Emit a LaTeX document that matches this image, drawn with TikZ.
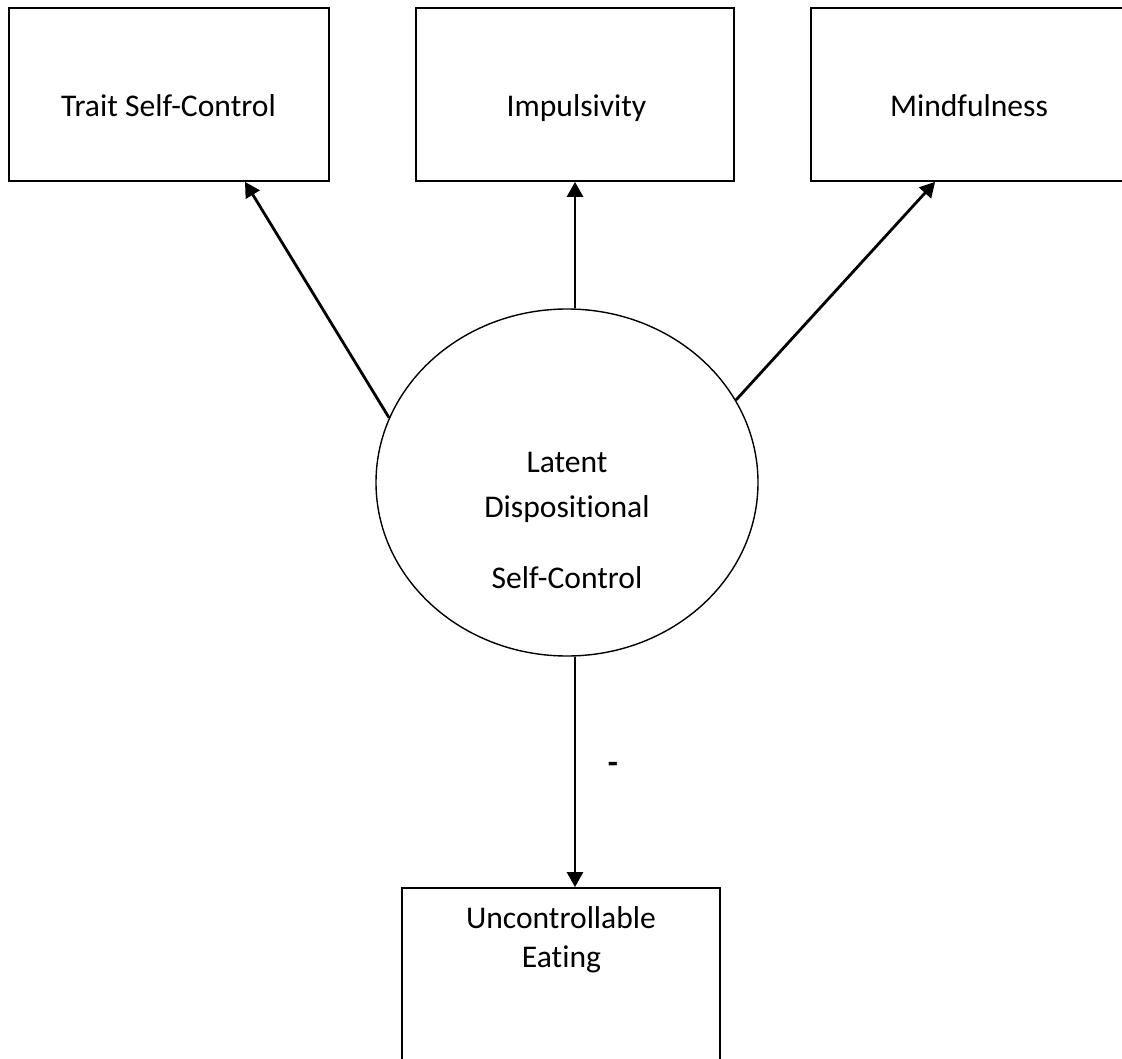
\documentclass[tikz,border=0pt]{standalone}
\usepackage{fontspec}
\setmainfont{Carlito}[Ligatures=NoCommon]
\usetikzlibrary{arrows.meta,calc,shapes.geometric}
\begin{document}
\begin{tikzpicture}[x=1pt,y=-1pt,
  box/.style={draw=black,line width=1.8pt,rectangle,inner sep=0pt},
  latent/.style={draw=black,line width=1.4pt,ellipse,inner sep=0pt,
    minimum width=382pt,minimum height=347pt},
  lbl/.style={font=\fontsize{31.6}{38}\selectfont,anchor=base,inner sep=0pt},
  link/.style={line width=2.8pt,-{Triangle[length=15pt,width=16pt]}}
]
\useasboundingbox (0,0) rectangle (1122,1059);
\clip (0,0) rectangle (1122,1059);

% indicator boxes
\node[box,minimum width=320pt,minimum height=173pt] (tsc) at (169,94.5) {};
\node[box,minimum width=318pt,minimum height=173pt] (imp) at (575,94.5) {};
\node[box,minimum width=324pt,minimum height=173pt] (mfn) at (973,94.5) {};

% latent factor
\node[latent] (lat) at (567,482.5) {};

% outcome box
\node[box,minimum width=318pt,minimum height=190pt] (uce) at (561,983) {};

% labels
\node[lbl] (tscT) at (168.5,117) {Trait Self-Control};
\node[lbl] (impT) at (576.5,117) {Impulsivity};
\node[lbl] (mfnT) at (969,117) {Mindfulness};
\node[lbl] (latA) at (567,472) {Latent};
\node[lbl] (latB) at (567,517) {Dispositional};
\node[lbl] (latC) at (567,588) {Self-Control};
\node[lbl] (uceA) at (561,928) {Uncontrollable};
\node[lbl] (uceB) at (561.5,967) {Eating};
\node[lbl,font=\fontsize{33}{38}\selectfont\bfseries] (sign) at (613,773) {-};

% paths
\coordinate (axis) at (575,0);
\draw[link] (lat.160) -- ($(tsc.south)+(76,0)$);
\draw[link] (lat.north -| axis) -- (imp.south -| axis);
\draw[link] (lat.26) -- ($(mfn.south west)+(125,0)$);
\draw[link] (lat.south -| axis) -- (uce.north -| axis);
\end{tikzpicture}
\end{document}
